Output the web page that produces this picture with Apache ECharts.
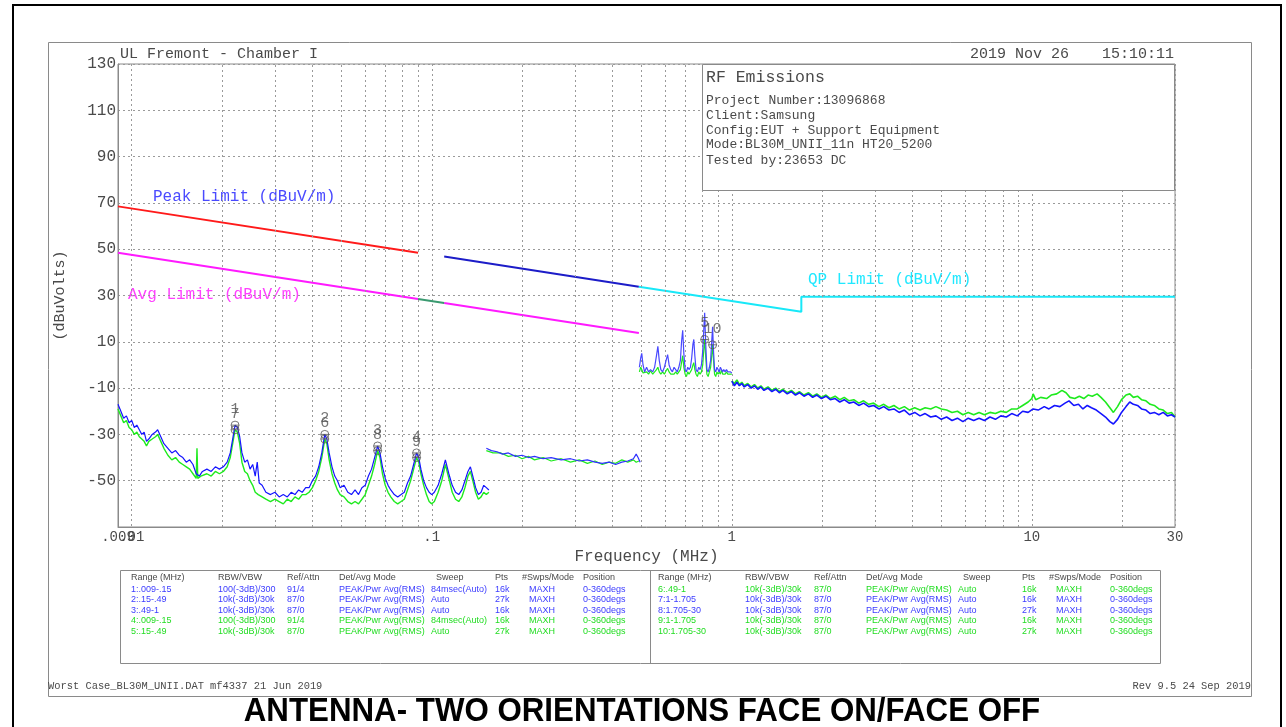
<!DOCTYPE html>
<html><head><meta charset="utf-8">
<script src="https://cdn.jsdelivr.net/npm/echarts@6/dist/echarts.min.js"></script>
<style>html,body{margin:0;padding:0;background:#fff}#chart{width:1286px;height:727px}</style>
</head><body><div id="chart"></div>
<script>
// Frequency axis ticks (MHz)
const xTickValues = [0.009, 0.01, 0.1, 1, 10, 30];
const xTickLabels = ['.009', '.01', '.1', '1', '10', '30'];
// Minor vertical grid lines (MHz)
const gridFreqs = [0.02,0.03,0.04,0.05,0.06,0.07,0.08,0.09,0.2,0.3,0.4,0.5,0.6,0.7,0.8,0.9,2,3,4,5,6,7,8,9,20];

// Limit lines [MHz, dBuV/m]
const peakLimitA = [[0.009, 68.5], [0.09, 48.5]];
const peakLimitB = [[0.11, 46.8], [0.49, 33.8]];
const avgLimitA = [[0.009, 48.5], [0.09, 28.5]];
const avgLimitB = [[0.11, 26.8], [0.49, 13.8]];
const qpLimitMid = [[0.09, 28.5], [0.11, 26.8]];
const qpLimit = [[0.49, 33.8], [1.705, 23.0], [1.705, 29.5], [30, 29.5]];

// Measured traces [MHz, dBuV]
const blueR1 = [[0.0090,-17],[0.0092,-20],[0.0094,-23],[0.0096,-22],[0.0098,-25],[0.0100,-24],[0.0102,-27],[0.0104,-26],[0.0106,-28],[0.0108,-30],[0.0110,-29],[0.0112,-33],[0.0114,-32],[0.0117,-30],[0.0120,-29],[0.0122,-28],[0.0125,-31],[0.0128,-34],[0.0132,-36],[0.0136,-38],[0.0140,-37],[0.0144,-39],[0.0148,-40],[0.0152,-42],[0.0156,-41],[0.0160,-43],[0.0164,-47],[0.0168,-48],[0.0172,-46],[0.0178,-45],[0.0184,-46],[0.0190,-44],[0.0196,-45],[0.0202,-44],[0.0208,-42],[0.0213,-38],[0.0217,-32],[0.0221,-26],[0.0225,-27],[0.0229,-31],[0.0233,-38],[0.0238,-42],[0.0243,-41],[0.0248,-45],[0.0253,-43],[0.0258,-48],[0.0262,-42],[0.0266,-51],[0.0272,-52],[0.0280,-55],[0.0290,-56],[0.0300,-55],[0.0310,-57],[0.0320,-56],[0.0330,-57],[0.0340,-55],[0.0350,-56],[0.0360,-54],[0.0370,-55],[0.0380,-53],[0.0390,-53],[0.0400,-50],[0.0410,-48],[0.0420,-44],[0.0430,-38],[0.0440,-30],[0.0447,-32],[0.0455,-38],[0.0465,-44],[0.0475,-48],[0.0485,-50],[0.0495,-53],[0.0510,-52],[0.0525,-55],[0.0540,-56],[0.0555,-54],[0.0570,-56],[0.0585,-53],[0.0600,-52],[0.0615,-48],[0.0630,-45],[0.0645,-40],[0.0660,-35],[0.0672,-38],[0.0685,-44],[0.0700,-49],[0.0715,-52],[0.0730,-54],[0.0750,-56],[0.0770,-57],[0.0790,-56],[0.0810,-55],[0.0830,-51],[0.0850,-48],[0.0870,-43],[0.0890,-38],[0.0905,-40],[0.0920,-45],[0.0940,-50],[0.0960,-53],[0.0980,-55],[0.1000,-56],[0.1020,-55],[0.1050,-52],[0.1080,-47],[0.1110,-41],[0.1140,-47],[0.1170,-52],[0.1200,-55],[0.1230,-56],[0.1260,-54],[0.1290,-50],[0.1320,-46],[0.1345,-44],[0.1370,-48],[0.1400,-53],[0.1430,-56],[0.1460,-55],[0.1490,-52],[0.1520,-53],[0.1550,-54]];
const greenR4 = [[0.0090,-19],[0.0092,-22],[0.0094,-25],[0.0096,-24],[0.0098,-27],[0.0100,-28],[0.0102,-30],[0.0104,-29],[0.0106,-31],[0.0108,-32],[0.0110,-33],[0.0112,-35],[0.0114,-33],[0.0117,-32],[0.0120,-31],[0.0122,-30],[0.0125,-33],[0.0128,-36],[0.0132,-39],[0.0136,-41],[0.0140,-40],[0.0144,-42],[0.0148,-43],[0.0152,-44],[0.0156,-45],[0.0160,-47],[0.0164,-49],[0.0165,-36],[0.0166,-49],[0.0170,-48],[0.0178,-47],[0.0184,-48],[0.0190,-46],[0.0196,-47],[0.0202,-46],[0.0208,-44],[0.0213,-40],[0.0217,-34],[0.0221,-28],[0.0225,-29],[0.0229,-34],[0.0233,-42],[0.0238,-46],[0.0243,-47],[0.0248,-50],[0.0253,-52],[0.0258,-55],[0.0264,-56],[0.0272,-57],[0.0280,-58],[0.0290,-59],[0.0300,-58],[0.0310,-59],[0.0320,-60],[0.0330,-58],[0.0340,-59],[0.0350,-57],[0.0360,-58],[0.0370,-56],[0.0380,-56],[0.0390,-55],[0.0400,-53],[0.0410,-50],[0.0420,-46],[0.0430,-40],[0.0440,-32],[0.0447,-34],[0.0455,-41],[0.0465,-47],[0.0475,-51],[0.0485,-54],[0.0495,-56],[0.0510,-57],[0.0525,-59],[0.0540,-60],[0.0555,-59],[0.0570,-60],[0.0585,-58],[0.0600,-56],[0.0615,-52],[0.0630,-48],[0.0645,-43],[0.0660,-37],[0.0672,-40],[0.0685,-47],[0.0700,-52],[0.0715,-55],[0.0730,-57],[0.0750,-59],[0.0770,-60],[0.0790,-59],[0.0810,-58],[0.0830,-54],[0.0850,-50],[0.0870,-45],[0.0890,-40],[0.0905,-42],[0.0920,-47],[0.0940,-52],[0.0960,-56],[0.0980,-59],[0.1000,-60],[0.1020,-59],[0.1050,-55],[0.1080,-50],[0.1110,-43],[0.1140,-49],[0.1170,-55],[0.1200,-58],[0.1230,-59],[0.1260,-57],[0.1290,-53],[0.1320,-48],[0.1345,-46],[0.1370,-50],[0.1400,-55],[0.1430,-58],[0.1460,-57],[0.1490,-55],[0.1520,-56],[0.1550,-55]];
const blueR2 = [[0.152,-36],[0.158,-37],[0.165,-37.5],[0.172,-38.5],[0.18,-38],[0.19,-39.5],[0.2,-39],[0.21,-40],[0.22,-39.5],[0.235,-40.5],[0.25,-40],[0.27,-41],[0.29,-40.5],[0.31,-41.5],[0.33,-41],[0.35,-42],[0.37,-42.5],[0.39,-42],[0.41,-43],[0.43,-42],[0.45,-41.5],[0.47,-40.5],[0.48,-38.5],[0.487,-40],[0.495,-42]];
const greenR5 = [[0.152,-37],[0.16,-38],[0.17,-38],[0.18,-39.5],[0.19,-39],[0.2,-40.5],[0.21,-39.5],[0.22,-41],[0.235,-40],[0.25,-41.5],[0.27,-40.5],[0.29,-42],[0.31,-41],[0.33,-42.5],[0.35,-41.5],[0.37,-43],[0.39,-42],[0.41,-42.5],[0.43,-41],[0.45,-42],[0.47,-41],[0.48,-42],[0.49,-41.5]];
const blueR3 = [[0.492,-1],[0.497,3],[0.501,5],[0.506,0],[0.512,-3],[0.52,-1],[0.528,-3],[0.536,-2],[0.545,-3],[0.553,-1],[0.561,4],[0.567,8],[0.573,2],[0.58,-2],[0.588,-3],[0.596,-1],[0.604,2],[0.611,4.5],[0.618,0],[0.626,-2],[0.634,-3],[0.642,-1],[0.65,-2],[0.658,-3],[0.666,-1],[0.674,2],[0.68,10],[0.686,15],[0.692,5],[0.699,-2],[0.706,-3],[0.713,-1],[0.72,-2],[0.728,-1],[0.735,3],[0.742,9],[0.747,11],[0.753,4],[0.76,-2],[0.768,-3],[0.776,-1],[0.784,-2],[0.792,0],[0.8,6],[0.807,16],[0.812,22.5],[0.818,10],[0.826,-2],[0.834,-3],[0.842,-1],[0.85,2],[0.857,10],[0.863,16.5],[0.869,6],[0.876,-2],[0.884,-3],[0.892,-1],[0.9,-2],[0.908,-3],[0.916,-1],[0.924,-0.5],[0.932,-3],[0.94,-2],[0.95,-3],[0.96,-2],[0.97,-3],[0.98,-2.5],[0.99,-3],[1.0,-3.5]];
const greenR6 = [[0.492,-3],[0.497,-1],[0.501,-2],[0.506,-3.5],[0.512,-4],[0.52,-3],[0.528,-4],[0.536,-2.5],[0.545,-4],[0.553,-3],[0.561,-2],[0.567,-1],[0.573,-3],[0.58,-4],[0.588,-3],[0.596,-4],[0.604,-2.5],[0.611,-1.5],[0.618,-3],[0.626,-4],[0.634,-3.5],[0.642,-4],[0.65,-3],[0.658,-4],[0.666,-3],[0.674,-2],[0.68,1],[0.686,4],[0.692,-1],[0.699,-4],[0.706,-5],[0.713,-3],[0.72,-4],[0.728,-3.5],[0.735,-2],[0.742,0],[0.747,1],[0.753,-2],[0.76,-4],[0.768,-5],[0.776,-3],[0.784,-4],[0.792,-3],[0.8,0],[0.807,7],[0.812,11],[0.818,4],[0.826,-4],[0.834,-5],[0.842,-3],[0.85,-1],[0.857,4],[0.863,8.7],[0.869,2],[0.876,-4],[0.884,-5],[0.892,-3],[0.9,-4],[0.908,-3],[0.916,-4],[0.924,-2],[0.932,-4],[0.94,-3.5],[0.95,-4],[0.96,-3],[0.97,-4],[0.98,-3.5],[0.99,-4],[1.0,-4]];
const blueR78 = [[1.00,-7],[1.02,-9],[1.04,-7.5],[1.06,-9],[1.08,-8],[1.10,-9.5],[1.13,-8.5],[1.16,-10],[1.19,-9],[1.22,-10.5],[1.25,-9.5],[1.28,-11],[1.32,-10],[1.36,-11.5],[1.40,-10.5],[1.44,-12],[1.48,-11],[1.53,-12.5],[1.58,-11.5],[1.63,-13],[1.68,-12],[1.74,-13.5],[1.80,-12.5],[1.86,-14],[1.92,-13],[1.99,-14.5],[2.06,-13.5],[2.13,-15],[2.21,-14.5],[2.29,-16],[2.37,-15],[2.46,-16.5],[2.55,-16],[2.65,-17.5],[2.75,-16.5],[2.86,-18],[2.97,-17.5],[3.09,-19],[3.21,-18],[3.34,-19.5],[3.47,-19],[3.61,-20.5],[3.76,-19.5],[3.91,-21.5],[4.07,-20.5],[4.24,-22],[4.41,-21],[4.6,-22.5],[4.79,-22],[4.99,-23.5],[5.2,-22.5],[5.42,-24],[5.65,-23],[5.89,-24.5],[6.14,-23],[6.4,-24],[6.67,-23],[6.95,-24],[7.25,-22.5],[7.56,-23.5],[7.88,-22],[8.22,-22.5],[8.57,-21],[8.94,-22],[9.32,-20],[9.72,-20.5],[10.1,-19],[10.5,-19.5],[11.0,-18],[11.4,-19],[11.9,-17.5],[12.4,-18],[12.9,-16.5],[13.3,-15.5],[13.8,-17.5],[14.3,-17],[14.8,-19],[15.3,-17.5],[15.8,-18.5],[16.4,-19.5],[17.0,-21],[17.6,-22.5],[18.2,-24.5],[18.7,-25.5],[19.3,-23.5],[19.9,-20.5],[20.6,-18],[21.2,-16],[21.8,-17],[22.5,-17.5],[23.2,-19],[24.0,-19.5],[24.8,-21],[25.6,-20.5],[26.5,-21.5],[27.4,-20.5],[28.3,-22],[29.2,-21.5],[30,-22.5]];
const greenR910 = [[1.00,-7],[1.02,-8],[1.04,-6.5],[1.06,-8.5],[1.08,-7.5],[1.10,-9],[1.13,-8],[1.16,-9.5],[1.19,-8.5],[1.22,-10],[1.25,-9],[1.28,-10.5],[1.32,-9.5],[1.36,-11],[1.40,-10],[1.44,-11.5],[1.48,-10.5],[1.53,-12],[1.58,-11],[1.63,-12.5],[1.68,-11.5],[1.74,-13],[1.80,-12],[1.86,-13.5],[1.92,-12.5],[1.99,-14],[2.06,-13],[2.13,-14.5],[2.21,-13.5],[2.29,-15],[2.37,-14],[2.46,-15.5],[2.55,-15],[2.65,-16.5],[2.75,-15.5],[2.86,-17],[2.97,-16.5],[3.09,-18],[3.21,-17],[3.34,-18.5],[3.47,-17.5],[3.61,-19],[3.76,-18],[3.91,-19.5],[4.07,-18.5],[4.24,-19.5],[4.41,-18.5],[4.6,-19],[4.79,-18],[4.99,-19],[5.2,-19.5],[5.42,-20.5],[5.65,-20],[5.89,-21.5],[6.14,-20.5],[6.4,-21.5],[6.67,-20.5],[6.95,-21.5],[7.25,-20.5],[7.56,-21],[7.88,-20],[8.22,-20.5],[8.57,-19],[8.94,-19],[9.32,-17.5],[9.72,-16],[10.0,-14.5],[10.1,-12.5],[10.3,-15],[10.7,-14],[11.2,-14.5],[11.6,-13],[12.1,-12.5],[12.6,-11],[13.0,-12],[13.4,-14],[13.9,-14.5],[14.4,-13.5],[14.9,-14.5],[15.4,-13],[15.9,-13.5],[16.5,-12.5],[17.0,-14],[17.6,-16],[18.2,-18.5],[18.7,-20.5],[19.3,-18],[19.9,-15],[20.6,-13],[21.2,-12.5],[21.8,-14],[22.5,-13.5],[23.2,-15],[24.0,-15.5],[24.8,-17],[25.6,-17.5],[26.5,-19],[27.4,-19.5],[28.3,-21],[29.2,-20.5],[30,-22.5]];

// Numbered markers [MHz, dBuV, label]
const markers = [[0.0221,-26,'1'],[0.0221,-28,'7'],[0.0440,-30,'2'],[0.0440,-32,'6'],[0.0660,-35,'3'],[0.0660,-37,'8'],[0.0890,-38,'4'],[0.0890,-40,'9'],[0.812,11,'5'],[0.863,8.7,'10']];

// Range table
const tableHeader = ['Range (MHz)','RBW/VBW','Ref/Attn','Det/Avg Mode','Sweep','Pts','#Swps/Mode','Position'];
const tableLeft = [
  ['1:.009-.15','100(-3dB)/300','91/4','PEAK/Pwr Avg(RMS)','84msec(Auto)','16k','MAXH','0-360degs'],
  ['2:.15-.49','10k(-3dB)/30k','87/0','PEAK/Pwr Avg(RMS)','Auto','27k','MAXH','0-360degs'],
  ['3:.49-1','10k(-3dB)/30k','87/0','PEAK/Pwr Avg(RMS)','Auto','16k','MAXH','0-360degs'],
  ['4:.009-.15','100(-3dB)/300','91/4','PEAK/Pwr Avg(RMS)','84msec(Auto)','16k','MAXH','0-360degs'],
  ['5:.15-.49','10k(-3dB)/30k','87/0','PEAK/Pwr Avg(RMS)','Auto','27k','MAXH','0-360degs']
];
const tableRight = [
  ['6:.49-1','10k(-3dB)/30k','87/0','PEAK/Pwr Avg(RMS)','Auto','16k','MAXH','0-360degs'],
  ['7:1-1.705','10k(-3dB)/30k','87/0','PEAK/Pwr Avg(RMS)','Auto','16k','MAXH','0-360degs'],
  ['8:1.705-30','10k(-3dB)/30k','87/0','PEAK/Pwr Avg(RMS)','Auto','27k','MAXH','0-360degs'],
  ['9:1-1.705','10k(-3dB)/30k','87/0','PEAK/Pwr Avg(RMS)','Auto','16k','MAXH','0-360degs'],
  ['10:1.705-30','10k(-3dB)/30k','87/0','PEAK/Pwr Avg(RMS)','Auto','27k','MAXH','0-360degs']
];
const leftColors = ['blue','blue','blue','green','green'];
const rightColors = ['green','blue','blue','green','green'];

const infoTitle = 'RF Emissions';
const infoLines = ['Project Number:13096868','Client:Samsung','Config:EUT + Support Equipment','Mode:BL30M_UNII_11n HT20_5200','Tested by:23653 DC'];

const MONO = '"Liberation Mono", "DejaVu Sans Mono", monospace';
const SANS = '"Liberation Sans", Arial, sans-serif';
const TXT = '#4a4a4a';
const BLUE = '#1414ff', GREEN = '#1eea1e';
const TBL_BLUE = '#3c3cff', TBL_GREEN = '#22dd22';

const chart = echarts.init(document.getElementById('chart'), null, {renderer: 'canvas'});

function tickIndex(v) {
  for (let i = 0; i < xTickValues.length; i++) {
    if (Math.abs(Math.log10(v) - Math.log10(xTickValues[i])) < 0.004) return i;
  }
  return -1;
}
// main axis: every tick label except the range start
function tickLabel(v) {
  const i = tickIndex(v);
  return i > 0 ? xTickLabels[i] : '';
}
// overlay axis: only the range start
function startLabel(v) {
  return tickIndex(v) === 0 ? xTickLabels[0] : '';
}

function line(name, data, color, width, z) {
  return {type: 'line', name, data, showSymbol: false, symbol: 'none', z: z || 3,
    lineStyle: {color, width: width || 1}, animation: false, silent: true};
}

// table text elements
const g = [];
function txt(x, y, text, font, color, align) {
  g.push({type: 'text', x, y, silent: true,
    style: {text, font, fill: color, textAlign: align || 'left', textVerticalAlign: 'middle'}});
}
const hdrX = [131,218,287,339,436,495,522,583];
const colX = [131,218,287,339,431,495,529,583];
const rowY = [589.5,600,610.5,621,631.5];
const TF = '9px ' + SANS;
[0, 527].forEach((dx, side) => {
  tableHeader.forEach((h, i) => txt(hdrX[i] + dx, 578, h, TF, TXT));
  const rows = side === 0 ? tableLeft : tableRight;
  const cols = side === 0 ? leftColors : rightColors;
  rows.forEach((r, ri) => r.forEach((c, ci) =>
    txt(colX[ci] + dx, rowY[ri], c, TF, cols[ri] === 'blue' ? TBL_BLUE : TBL_GREEN)));
});

// frames
g.push({type: 'rect', silent: true, shape: {x: 13, y: 5, width: 1268, height: 740},
  style: {fill: 'none', stroke: '#000', lineWidth: 2}});
g.push({type: 'rect', silent: true, shape: {x: 48.5, y: 42.5, width: 1203, height: 654},
  style: {fill: 'none', stroke: '#8a8a8a', lineWidth: 1}});
g.push({type: 'rect', silent: true, shape: {x: 120.5, y: 570.5, width: 1040, height: 93},
  style: {fill: 'none', stroke: '#8a8a8a', lineWidth: 1}});
g.push({type: 'line', silent: true, shape: {x1: 650.5, y1: 570, x2: 650.5, y2: 663},
  style: {stroke: '#8a8a8a', lineWidth: 1}});
g.push({type: 'rect', silent: true, z: 10, shape: {x: 702.5, y: 64.5, width: 472, height: 126},
  style: {fill: '#fff', stroke: '#8a8a8a', lineWidth: 1}});

// header and info box
txt(120, 54, 'UL Fremont - Chamber I', '15px ' + MONO, TXT);
txt(970, 54, '2019 Nov 26', '15px ' + MONO, TXT);
txt(1102, 54, '15:10:11', '15px ' + MONO, TXT);
g.push({type: 'text', x: 706, y: 78, z: 11, silent: true, style: {text: infoTitle, font: '16.5px ' + MONO, fill: TXT, textVerticalAlign: 'middle'}});
const infoY = [101, 116, 130.5, 145, 161];
infoLines.forEach((t, i) => g.push({type: 'text', x: 706, y: infoY[i], z: 11, silent: true,
  style: {text: t, font: '13px ' + MONO, fill: TXT, textVerticalAlign: 'middle'}}));

// limit captions
txt(153, 197, 'Peak Limit (dBuV/m)', '16px ' + MONO, '#4a4aff');
txt(128, 295, 'Avg Limit (dBuV/m)', '16px ' + MONO, '#ff40ff');
txt(808, 280, 'QP Limit (dBuV/m)', '16px ' + MONO, '#20e8ff');

// footer and title
txt(48, 686, 'Worst Case_BL30M_UNII.DAT mf4337 21 Jun 2019', '10.4px ' + MONO, TXT);
txt(1251, 686, 'Rev 9.5 24 Sep 2019', '10.4px ' + MONO, TXT, 'right');
g.push({type: 'text', x: 642, y: 712, silent: true, scaleX: 0.92, originX: 0, originY: 0,
  style: {text: 'ANTENNA- TWO ORIENTATIONS FACE ON/FACE OFF', font: 'bold 34px ' + SANS, fill: '#000',
    textAlign: 'center', textVerticalAlign: 'middle'}});

const markerSymbol = 'path://M0,5A5,5 0 1,0 10,5A5,5 0 1,0 0,5ZM0,5L10,5';

const xCommon = {type: 'log', logBase: 10, min: 0.009, max: 30, position: 'bottom', gridIndex: 0};

const option = {
  backgroundColor: '#fff',
  animation: false,
  grid: {left: 118, top: 64, width: 1057, height: 463, show: true, borderColor: '#8a8a8a', borderWidth: 1},
  xAxis: [
    Object.assign({}, xCommon, {
      name: 'Frequency (MHz)', nameLocation: 'middle', nameGap: 19,
      nameTextStyle: {fontFamily: MONO, fontSize: 16, color: TXT},
      axisLine: {show: true, onZero: false, lineStyle: {color: '#8a8a8a', width: 1}},
      axisTick: {show: false},
      axisLabel: {formatter: tickLabel, fontFamily: MONO, fontSize: 14, color: TXT, margin: 3},
      splitLine: {show: true, lineStyle: {color: '#9a9a9a', type: [2, 3], width: 1}}
    }),
    Object.assign({}, xCommon, {
      axisLine: {show: false, onZero: false},
      axisTick: {show: false},
      axisLabel: {formatter: startLabel, fontFamily: MONO, fontSize: 14, color: TXT, margin: 3, showMinLabel: true},
      splitLine: {show: false}
    })
  ],
  yAxis: {
    type: 'value', min: -70, max: 130, interval: 20,
    name: '(dBuVolts)', nameLocation: 'middle', nameGap: 50, nameRotate: 90,
    nameTextStyle: {fontFamily: MONO, fontSize: 15, color: TXT},
    axisLine: {show: true, lineStyle: {color: '#8a8a8a', width: 1}},
    axisTick: {show: false},
    axisLabel: {fontFamily: MONO, fontSize: 16, color: TXT, margin: 2, showMinLabel: false},
    splitLine: {show: true, lineStyle: {color: '#9a9a9a', type: [2, 3], width: 1}}
  },
  graphic: g,
  series: [
    {type: 'line', data: [], silent: true, markLine: {silent: true, symbol: 'none', label: {show: false},
      lineStyle: {color: '#9a9a9a', type: [2, 3], width: 1}, data: gridFreqs.map(f => ({xAxis: f}))}},
    line('Peak Limit', peakLimitA, '#ff1a1a', 2, 4),
    line('Peak Limit', peakLimitB, '#1c1cc8', 2, 4),
    line('Avg Limit', avgLimitA, '#ff1aff', 2, 4),
    line('Avg Limit', avgLimitB, '#ff1aff', 2, 4),
    line('QP Limit', qpLimitMid, '#3a9a70', 2, 4),
    line('QP Limit', qpLimit, '#18e8f8', 2, 4),
    line('4', greenR4, GREEN, 1.4, 5),
    line('5', greenR5, GREEN, 1.2, 5),
    line('6', greenR6, GREEN, 1.2, 5),
    line('9/10', greenR910, GREEN, 1.6, 5),
    line('1', blueR1, BLUE, 1.2, 6),
    line('2', blueR2, '#3030ff', 1.2, 6),
    line('3', blueR3, '#4848ff', 1.2, 6),
    line('7/8', blueR78, BLUE, 1.6, 6),
    {type: 'scatter', data: markers.map(m => ({value: [m[0], m[1]], name: m[2]})), z: 8, silent: true,
      symbol: markerSymbol, symbolSize: 8,
      itemStyle: {color: 'none', borderColor: '#555', borderWidth: 1},
      label: {show: true, position: 'top', distance: 2, formatter: p => p.name, fontFamily: MONO, fontSize: 15, color: '#555'}}
  ]
};
chart.setOption(option);
</script></body></html>
